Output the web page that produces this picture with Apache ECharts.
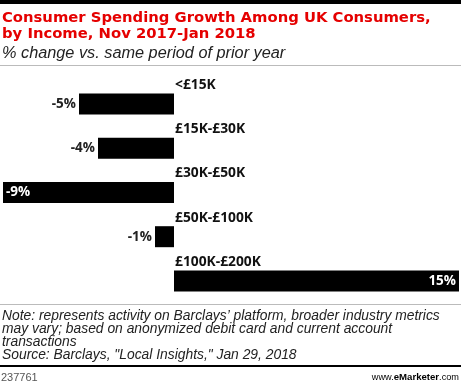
<!DOCTYPE html>
<html>
<head>
<meta charset="utf-8">
<script src="https://cdn.jsdelivr.net/npm/echarts@6/dist/echarts.min.js"></script>
<style>
html,body{margin:0;padding:0;background:#fff;}
#chart{width:461px;height:383px;}
</style>
</head>
<body>
<div id="chart"></div>
<script>
const categories = ['<£15K', '£15K-£30K', '£30K-£50K', '£50K-£100K', '£100K-£200K'];
const values = [-5, -4, -9, -1, 15];
const titleText = 'Consumer Spending Growth Among UK Consumers,\nby Income, Nov 2017-Jan 2018';
const subtitleText = '% change vs. same period of prior year';
const noteLines = [
  'Note: represents activity on Barclays\u2019 platform, broader industry metrics',
  'may vary; based on anonymized debit card and current account',
  'transactions',
  'Source: Barclays, "Local Insights," Jan 29, 2018'
];
const chartId = '237761';

const chart = echarts.init(document.getElementById('chart'), null, {renderer: 'canvas'});

const data = values.map(v => {
  const big = Math.abs(v) >= 8;
  return {
    value: v,
    label: big ? {
      position: v < 0 ? 'insideLeft' : 'insideRight',
      color: '#fff',
      distance: 3
    } : {
      position: v < 0 ? 'left' : 'right',
      color: '#222',
      distance: 3
    }
  };
});

chart.setOption({
  animation: false,
  backgroundColor: '#fff',
  title: [{
    text: titleText,
    left: 2, top: 10, padding: 0,
    textStyle: {fontFamily: 'DejaVu Sans', fontWeight: 'bold', fontSize: 14.8, color: '#e50000', lineHeight: 15.8}
  }, {
    text: subtitleText,
    left: 2, top: 45, padding: 0,
    textStyle: {fontFamily: 'Liberation Sans', fontStyle: 'italic', fontWeight: 'normal', fontSize: 16.3, lineHeight: 16, color: '#222'}
  }],
  grid: {left: 3, right: 2, top: 82, height: 221, containLabel: false},
  xAxis: {
    type: 'value', min: -9, max: 15, show: false
  },
  yAxis: {
    type: 'category', data: categories, inverse: true,
    offset: -171,
    axisLine: {show: false},
    axisTick: {show: false},
    axisLabel: {
      inside: true, margin: 1, align: 'left', verticalAlign: 'bottom',
      padding: [0, 0, 12, 0],
      fontFamily: 'Open Sans', fontWeight: 'bold', fontSize: 13.8, color: '#111'
    }
  },
  series: [{
    type: 'bar', data: data, barWidth: 21,
    itemStyle: {color: '#000'},
    label: {
      show: true, formatter: p => p.value + '%',
      fontFamily: 'Open Sans', fontWeight: 'bold', fontSize: 13.5
    }
  }],
  graphic: [
    {type: 'rect', shape: {x: 0, y: 0, width: 461, height: 4}, style: {fill: '#000'}},
    {type: 'rect', shape: {x: 0, y: 65, width: 461, height: 1}, style: {fill: '#bbb'}},
    {type: 'rect', shape: {x: 0, y: 304, width: 461, height: 1}, style: {fill: '#bbb'}},
    {type: 'text', left: 2, top: 309, style: {
      text: noteLines.join('\n'), fontFamily: 'Liberation Sans', fontStyle: 'italic', fontSize: 13.85, lineHeight: 13.1, fill: '#222'
    }},
    {type: 'rect', shape: {x: 0, y: 365, width: 461, height: 2}, style: {fill: '#000'}},
    {type: 'text', left: 1, top: 372, style: {
      text: chartId, fontFamily: 'Liberation Sans', fontSize: 11, fill: '#555'
    }},
    {type: 'text', right: 2, top: 372, style: {
      text: '{a|www.}{b|e}{c|Marketer}{a|.com}',
      rich: {
        a: {fontFamily: 'Liberation Sans', fontSize: 9.2, color: '#333'},
        b: {fontFamily: 'Liberation Sans', fontSize: 9.6, fontWeight: 'bold', color: '#e50000'},
        c: {fontFamily: 'Liberation Sans', fontSize: 9.6, fontWeight: 'bold', color: '#222'}
      }
    }}
  ]
});
</script>
</body>
</html>
